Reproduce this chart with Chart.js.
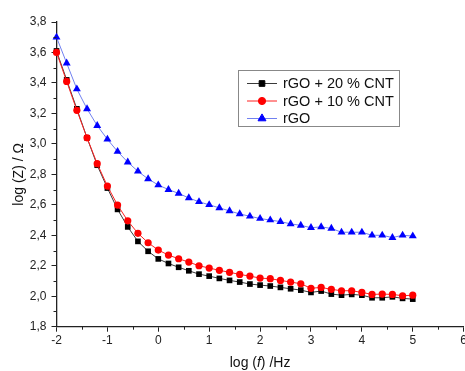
<!DOCTYPE html>
<html>
<head>
<meta charset="utf-8">
<script src="https://cdn.jsdelivr.net/npm/chart.js@4/dist/chart.umd.min.js"></script>
<style>
    html, body { margin: 0; padding: 0; background: #fff; overflow: hidden; }
    /* a bit wider than the window so the "6" label is cut at the edge like the original */
    #wrap { width: 469px; height: 371px; position: relative; }
</style>
</head>
<body>
<div id="wrap"><canvas id="impedanceChart"></canvas></div>
<script>
// log(f) values, step 0.2
const logF = [-2.0, -1.8, -1.6, -1.4, -1.2, -1.0, -0.8, -0.6, -0.4, -0.2,
    0.0, 0.2, 0.4, 0.6, 0.8, 1.0, 1.2, 1.4, 1.6, 1.8,
    2.0, 2.2, 2.4, 2.6, 2.8, 3.0, 3.2, 3.4, 3.6, 3.8,
    4.0, 4.2, 4.4, 4.6, 4.8, 5.0];

// log(Z)
const cnt20 = [3.61, 3.42, 3.23, 3.04, 2.86, 2.71, 2.57, 2.455, 2.36, 2.295,
    2.245, 2.215, 2.19, 2.167, 2.145, 2.132, 2.117, 2.104, 2.093, 2.08,
    2.073, 2.067, 2.058, 2.049, 2.04, 2.025, 2.034, 2.014, 2.007, 2.012,
    2.007, 1.99, 1.99, 1.996, 1.986, 1.981];
const cnt10 = [3.60, 3.41, 3.22, 3.04, 2.87, 2.723, 2.598, 2.495, 2.413, 2.351,
    2.303, 2.27, 2.246, 2.224, 2.20, 2.185, 2.17, 2.157, 2.143, 2.132,
    2.119, 2.115, 2.104, 2.093, 2.082, 2.052, 2.058, 2.045, 2.036, 2.036,
    2.025, 2.012, 2.014, 2.012, 2.003, 2.007];
const rgo = [3.70, 3.53, 3.36, 3.23, 3.12, 3.03, 2.95, 2.88, 2.82, 2.77,
    2.73, 2.70, 2.675, 2.645, 2.62, 2.60, 2.58, 2.56, 2.54, 2.525,
    2.51, 2.50, 2.49, 2.475, 2.465, 2.45, 2.455, 2.445, 2.42, 2.42,
    2.42, 2.40, 2.40, 2.385, 2.40, 2.395];

const seriesNames = ['rGO + 20 % CNT', 'rGO + 10 % CNT', 'rGO'];

const xTicks = [-2, -1, 0, 1, 2, 3, 4, 5, 6];
const yTicks = [1.8, 2.0, 2.2, 2.4, 2.6, 2.8, 3.0, 3.2, 3.4, 3.6, 3.8];
const xMinor = [-1.5, -0.5, 0.5, 1.5, 2.5, 3.5, 4.5, 5.5];
const yMinor = [1.9, 2.1, 2.3, 2.5, 2.7, 2.9, 3.1, 3.3, 3.5, 3.7];

const FONT = "'Liberation Sans', Arial, sans-serif";
const AXIS = '#222';

function toPoints(ys) {
    return logF.map((x, i) => ({ x: x, y: ys[i] }));
}

// minor ticks, legend box and axis titles
const extras = {
    id: 'extras',
    afterDraw(chart) {
        const ctx = chart.ctx;
        const xs = chart.scales.x, ys = chart.scales.y;
        ctx.save();
        ctx.strokeStyle = AXIS;
        ctx.lineWidth = 1;
        ctx.beginPath();
        xMinor.forEach(v => {
            const px = Math.round(xs.getPixelForValue(v)) + 0.5;
            ctx.moveTo(px, xs.top);
            ctx.lineTo(px, xs.top + 3);
        });
        yMinor.forEach(v => {
            const py = Math.round(ys.getPixelForValue(v)) + 0.5;
            ctx.moveTo(ys.right, py);
            ctx.lineTo(ys.right - 3, py);
        });
        ctx.stroke();

        // legend
        const bx = 238.5, by = 70.5, bw = 161, bh = 56;
        ctx.strokeStyle = '#888';
        ctx.lineWidth = 1;
        ctx.strokeRect(bx, by, bw, bh);
        ctx.font = '14.5px ' + FONT;
        ctx.textBaseline = 'middle';
        ctx.textAlign = 'left';
        seriesNames.forEach((name, i) => {
            const ds = chart.data.datasets[i];
            const cy = 83.5 + i * 17.5;
            ctx.strokeStyle = ds.borderColor;
            ctx.lineWidth = 1;
            ctx.beginPath();
            ctx.moveTo(247, cy);
            ctx.lineTo(277, cy);
            ctx.stroke();
            ctx.fillStyle = ds.pointBackgroundColor;
            ctx.strokeStyle = ds.pointBorderColor;
            Chart.helpers.drawPoint(ctx, {
                pointStyle: ds.pointStyle, radius: ds.pointRadius, borderWidth: 1, rotation: 0
            }, 262, cy);
            ctx.fillStyle = '#111';
            ctx.fillText(name, 283, cy + 0.5);
        });

        // axis titles
        ctx.fillStyle = '#111';
        const parts = [['log (', 'normal'], ['f', 'italic'], [') /Hz', 'normal']];
        let total = 0;
        parts.forEach(p => {
            ctx.font = p[1] + ' 14px ' + FONT;
            total += ctx.measureText(p[0]).width;
        });
        let tx = (xs.left + xs.right) / 2 - total / 2;
        ctx.textBaseline = 'alphabetic';
        parts.forEach(p => {
            ctx.font = p[1] + ' 14px ' + FONT;
            ctx.fillText(p[0], tx, 367);
            tx += ctx.measureText(p[0]).width;
        });

        ctx.font = '14px ' + FONT;
        ctx.translate(19, (ys.top + ys.bottom) / 2);
        ctx.rotate(-Math.PI / 2);
        ctx.textAlign = 'center';
        ctx.textBaseline = 'middle';
        ctx.fillText('log (Z) / \u03A9', 0, 0);
        ctx.restore();
    }
};

function impedanceChart() {

    let impedanceChart = document.getElementById('impedanceChart')

    new Chart(impedanceChart, {
        type: 'line',
        data: {
            datasets: [
                {
                    label: seriesNames[0],
                    data: toPoints(cnt20),
                    borderColor: '#3a3a3a',
                    borderWidth: 1,
                    pointStyle: 'rect',
                    pointRadius: 4,
                    pointBackgroundColor: '#000',
                    pointBorderColor: '#000',
                    pointBorderWidth: 0,
                    order: 1
                },
                {
                    label: seriesNames[1],
                    data: toPoints(cnt10),
                    borderColor: '#ff2020',
                    borderWidth: 1,
                    pointStyle: 'circle',
                    pointRadius: 3.6,
                    pointBackgroundColor: '#ff0000',
                    pointBorderColor: '#ff0000',
                    pointBorderWidth: 0,
                    order: 0
                },
                {
                    label: seriesNames[2],
                    data: toPoints(rgo),
                    borderColor: '#7080f0',
                    borderWidth: 1,
                    pointStyle: 'triangle',
                    pointRadius: 4.6,
                    pointBackgroundColor: '#0000ff',
                    pointBorderColor: '#0000ff',
                    pointBorderWidth: 0,
                    order: 2
                }
            ]
        },
        options: {
            responsive: true,
            maintainAspectRatio: false,
            animation: false,
            clip: false,
            layout: {
                padding: { top: 22, left: 0, right: 0, bottom: 0 }
            },
            plugins: {
                legend: { display: false },
                tooltip: { enabled: false }
            },
            scales: {
                x: {
                    type: 'linear',
                    min: -2,
                    max: 6,
                    afterBuildTicks: s => { s.ticks = xTicks.map(v => ({ value: v })); },
                    afterFit: s => { s.height = 44.3; },
                    ticks: {
                        padding: 2,
                        color: AXIS,
                        font: { family: FONT, size: 12 },
                        maxRotation: 0,
                        callback: v => String(v)
                    },
                    grid: { drawOnChartArea: false, drawTicks: true, tickLength: 5, color: AXIS, lineWidth: 1 },
                    border: { display: true, color: AXIS, width: 1.3 }
                },
                y: {
                    type: 'linear',
                    min: 1.8,
                    max: 3.8,
                    afterBuildTicks: s => { s.ticks = yTicks.map(v => ({ value: v })); },
                    afterFit: s => { s.width = 56.5; },
                    ticks: {
                        padding: 5,
                        color: AXIS,
                        font: { family: FONT, size: 12 },
                        callback: v => v.toFixed(1).replace('.', ',')
                    },
                    grid: { drawOnChartArea: false, drawTicks: true, tickLength: 5, color: AXIS, lineWidth: 1 },
                    border: { display: true, color: AXIS, width: 1.3 }
                }
            }
        },
        plugins: [extras]
    });
}

impedanceChart();
</script>
</body>
</html>
